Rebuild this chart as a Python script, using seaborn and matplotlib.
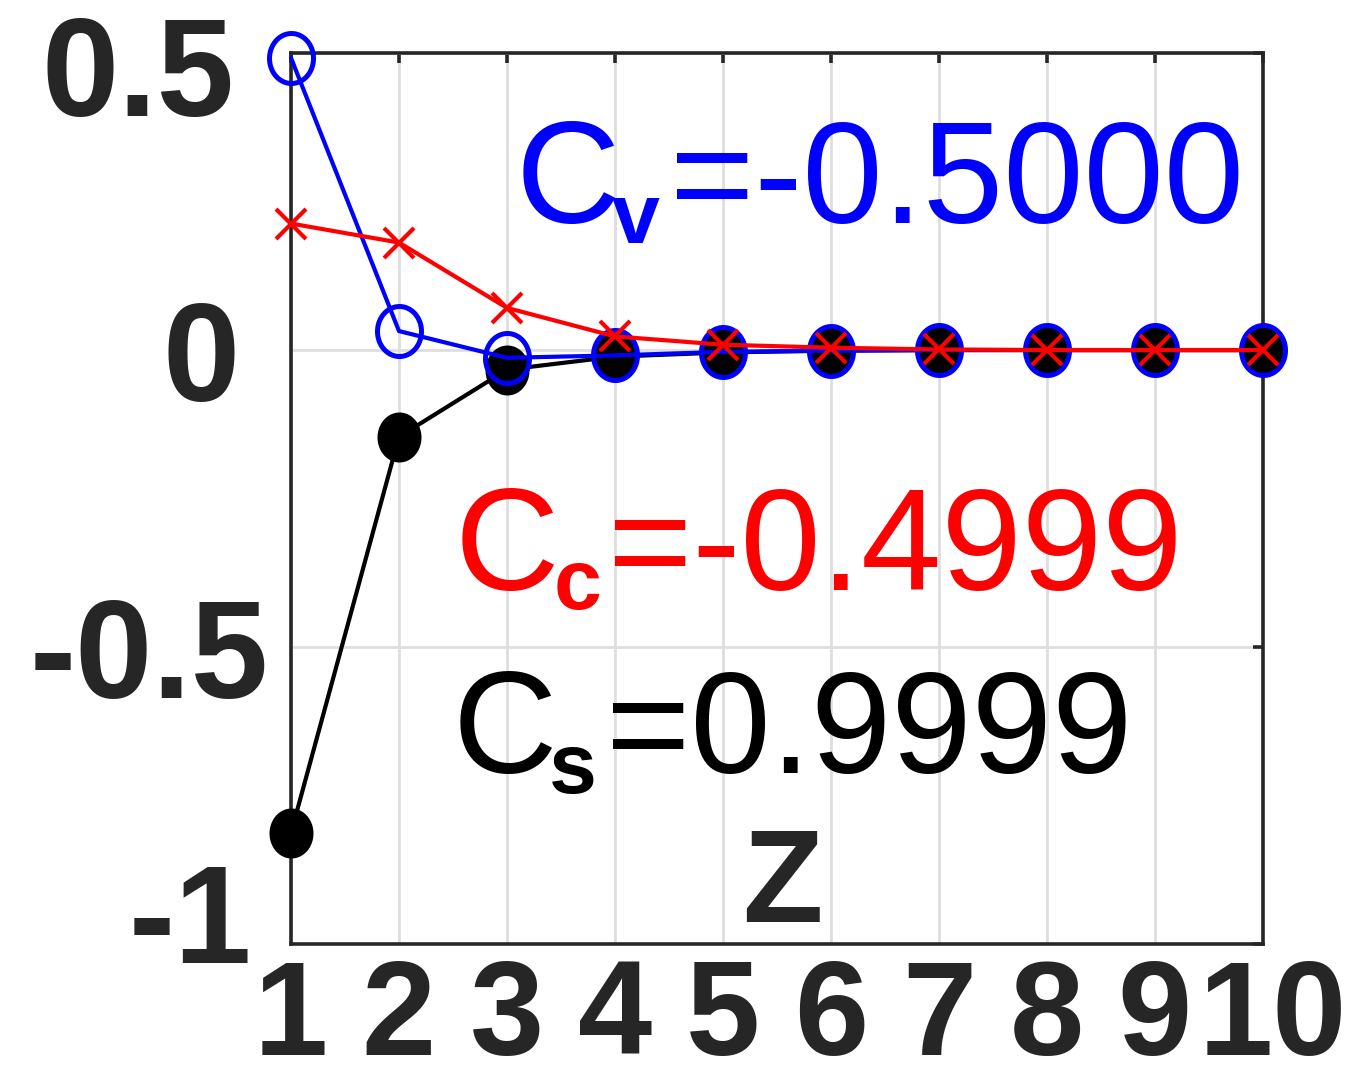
import numpy as np
import pandas as pd
import matplotlib
matplotlib.use("Agg")
import matplotlib.pyplot as plt
import matplotlib.transforms as mtransforms
from matplotlib.path import Path
import seaborn as sns

# values
z = [1, 2, 3, 4, 5, 6, 7, 8, 9, 10]
cs_vals = [-0.813, -0.146, -0.033, -0.011, -0.004, -0.001, 0.0, 0.0, 0.0, 0.0]
cv_vals = [0.492, 0.032, -0.013, -0.009, -0.003, -0.001, 0.0, 0.0, 0.0, 0.0]
cc_vals = [0.213, 0.181, 0.071, 0.023, 0.009, 0.004, 0.001, 0.0, 0.0, 0.0]
yticks = [-1, -0.5, 0, 0.5]
ytick_labels = ["-1", "-0.5", "0", "0.5"]

sns.set_theme(style="white")
plt.rcParams["font.family"] = ["Liberation Sans", "DejaVu Sans"]
plt.rcParams["axes.unicode_minus"] = False

dark = "#262626"

# slightly tall ellipse, like the stretched markers of the original
t = np.linspace(0, 2 * np.pi, 60)
ellipse = Path(np.column_stack([0.44 * np.cos(t), 0.5 * np.sin(t)]), closed=True)

fig = plt.figure(figsize=(13.49, 10.83), dpi=100)
ax = fig.add_axes([0.2157, 0.1283, 0.7205, 0.8227])

df = pd.DataFrame({"z": z, "cs": cs_vals, "cv": cv_vals, "cc": cc_vals})

sns.lineplot(data=df, x="z", y="cs", ax=ax, color="black", linewidth=3.0,
             marker=ellipse, markersize=36, markerfacecolor="black",
             markeredgecolor="black", markeredgewidth=0, clip_on=False, zorder=3)
sns.lineplot(data=df, x="z", y="cv", ax=ax, color="blue", linewidth=3.0,
             marker=ellipse, markersize=36, markerfacecolor="none",
             markeredgecolor="blue", markeredgewidth=3.6, clip_on=False, zorder=4)
sns.lineplot(data=df, x="z", y="cc", ax=ax, color="red", linewidth=3.0,
             marker="x", markersize=21, markeredgecolor="red",
             markeredgewidth=3.0, clip_on=False, zorder=5)

ax.set_xlim(1, 10)
ax.set_ylim(-1, 0.5)
ax.set_xticks(z)
ax.set_xticklabels([str(v) for v in z])
ax.set_yticks(yticks)
ax.set_yticklabels(ytick_labels)

ax.grid(True, color="#dedede", linewidth=2)
for s in ax.spines.values():
    s.set_visible(True)
    s.set_color(dark)
    s.set_linewidth(2.6)

ax.tick_params(axis="both", which="both", direction="in", length=7, width=2.6,
               color=dark, labelcolor=dark, top=True, right=True,
               labeltop=False, labelright=False)
ax.tick_params(axis="x", pad=10)
ax.tick_params(axis="y", pad=33)
for lab in ax.get_xticklabels():
    lab.set_fontsize(96)
    lab.set_fontweight("bold")
for lab in ax.get_yticklabels():
    lab.set_fontsize(100)
    lab.set_fontweight("bold")

# small nudges so the labels sit where the reference has them
shifts = {"0.5": (-8, -9), "-1": (5, 23), "-0.5": (17, 0), "0": (-4, 0)}
for lab in ax.get_yticklabels():
    dx, dy = shifts.get(lab.get_text(), (0, 0))
    lab.set_transform(lab.get_transform() +
                      mtransforms.ScaledTranslation(dx / 72, dy / 72, fig.dpi_scale_trans))
for lab in ax.get_xticklabels():
    if lab.get_text() == "10":
        lab.set_transform(lab.get_transform() +
                          mtransforms.ScaledTranslation(7 / 72, 0, fig.dpi_scale_trans))

ax.set_xlabel("Z", fontsize=95, fontweight="bold", color=dark, va="baseline")
ax.xaxis.set_label_coords(0.506, 0.0247)
ax.set_ylabel("")

# coefficient annotations: big C, bold subscript, then the value
notes = [
    ("v", "=-0.5000", "blue", (0.2315, 0.8092), (0.3300, 0.7868), (0.390, 0.8092)),
    ("c", "=-0.4999", "red", (0.1687, 0.3973), (0.2700, 0.3760), (0.326, 0.3973)),
    ("s", "=0.9999", "black", (0.1667, 0.1919), (0.2650, 0.1695), (0.324, 0.1919)),
]
for sub, val, col, p_c, p_sub, p_val in notes:
    ax.text(*p_c, "C", transform=ax.transAxes, fontsize=104, color=col,
            ha="left", va="baseline", zorder=6)
    ax.text(*p_sub, sub, transform=ax.transAxes, fontsize=62, fontweight="bold",
            color=col, ha="left", va="baseline", zorder=6)
    ax.text(*p_val, val, transform=ax.transAxes, fontsize=104, color=col,
            ha="left", va="baseline", zorder=6)

fig.savefig("out.png", dpi=100)
